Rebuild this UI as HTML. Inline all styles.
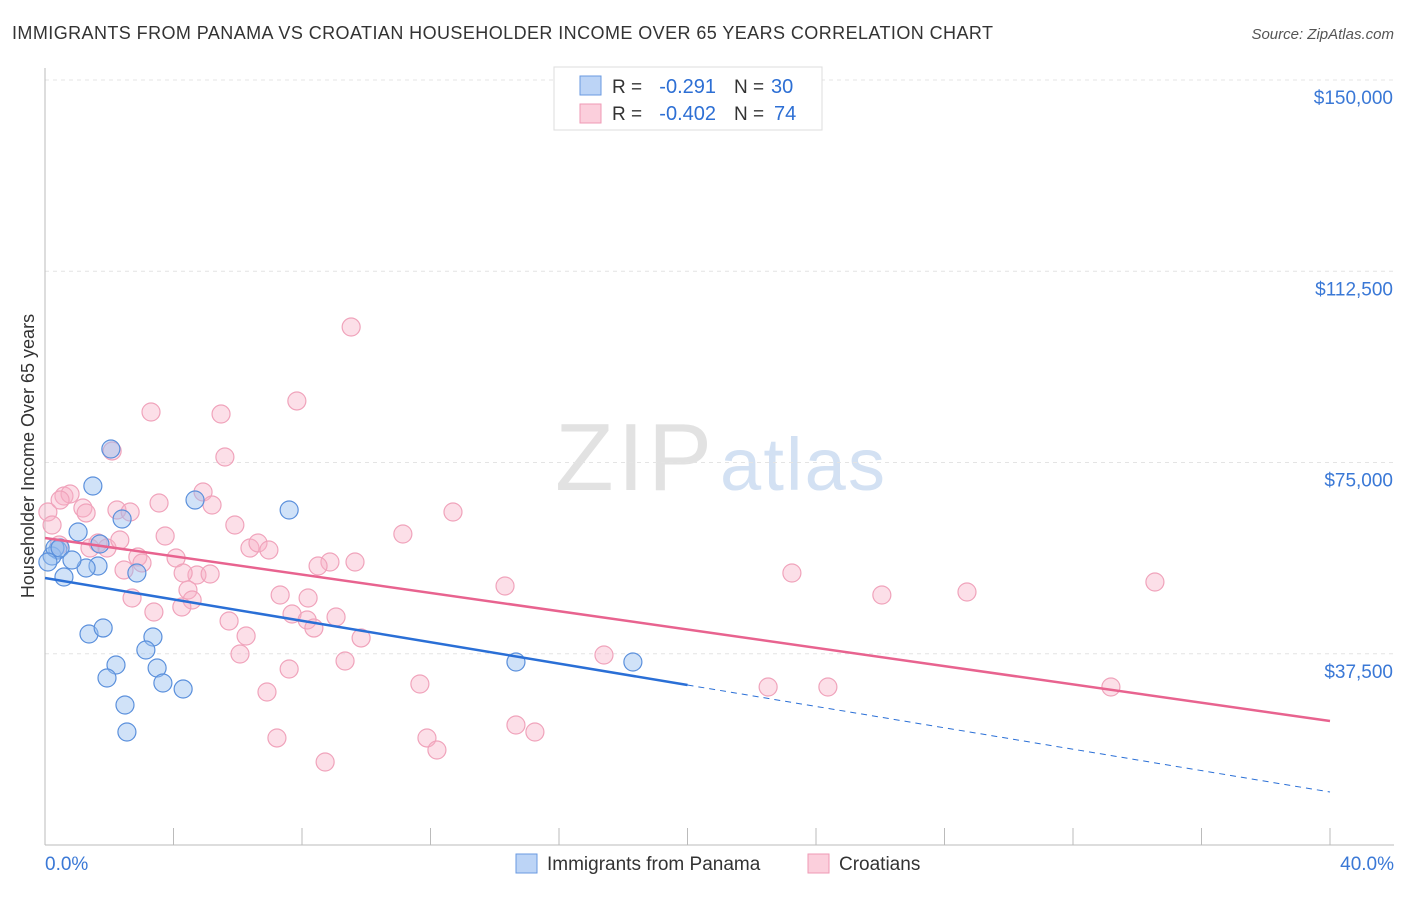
<!DOCTYPE html>
<html><head><meta charset="utf-8"><style>
body{margin:0;background:#fff;font-family:"Liberation Sans",sans-serif}
svg text{font-family:"Liberation Sans",sans-serif}
</style></head><body>
<svg id="c" width="1406" height="892">
<text x="12" y="39" font-size="18" textLength="981" fill="#333">IMMIGRANTS FROM PANAMA VS CROATIAN HOUSEHOLDER INCOME OVER 65 YEARS CORRELATION CHART</text>
<text x="1394" y="39" font-size="15" fill="#555" text-anchor="end" font-style="italic">Source: ZipAtlas.com</text>
<text x="555" y="490" font-size="96" textLength="157" fill="#e2e2e2" font-family="Liberation Serif">ZIP</text>
<text x="720" y="490" font-size="74" textLength="165" fill="#d3e1f3">atlas</text>
<text transform="translate(34,456) rotate(-90)" font-size="18" fill="#333" text-anchor="middle">Householder Income Over 65 years</text>
<g id="grid"></g><g id="pts"></g><g id="lines"></g>
<g>
<rect x="554" y="67" width="268" height="63" fill="#fff" stroke="#ddd"/>
<rect x="580" y="76" width="21" height="19" fill="#bcd4f6" stroke="#6a9ae0"/>
<rect x="580" y="104" width="21" height="19" fill="#fbcfdc" stroke="#ef9ab5"/>
<text x="612" y="93" font-size="19" fill="#333">R =</text>
<text x="716" y="93" font-size="20" fill="#2d6fd4" text-anchor="end">-0.291</text>
<text x="734" y="93" font-size="19" fill="#333">N =</text>
<text x="771" y="93" font-size="20" fill="#2d6fd4">30</text>
<text x="612" y="120" font-size="19" fill="#333">R =</text>
<text x="716" y="120" font-size="20" fill="#2d6fd4" text-anchor="end">-0.402</text>
<text x="734" y="120" font-size="19" fill="#333">N =</text>
<text x="774" y="120" font-size="20" fill="#2d6fd4">74</text>
</g>
<g>
<rect x="516" y="854" width="21" height="19" fill="#bcd4f6" stroke="#6a9ae0"/>
<text x="547" y="870" font-size="19" fill="#333">Immigrants from Panama</text>
<rect x="808" y="854" width="21" height="19" fill="#fbcfdc" stroke="#ef9ab5"/>
<text x="839" y="870" font-size="19" fill="#333">Croatians</text>
</g>
</svg>
<script>
const yTicks=[37500,75000,112500,150000];
const yTickLabels=["$37,500","$75,000","$112,500","$150,000"];
const xTickLabels=["0.0%","40.0%"];
const bluePx=[[111,449],[93,486],[122,519],[195,500],[289,510],[78,532],[100,544],[58,550],[52,556],[64,577],[98,566],[86,568],[137,573],[89,634],[103,628],[153,637],[146,650],[116,665],[157,668],[107,678],[163,683],[183,689],[125,705],[127,732],[516,662],[633,662],[55,548],[48,562],[60,548],[72,560]];
const pinkPx=[[351,327],[297,401],[151,412],[221,414],[225,457],[112,451],[64,496],[70,494],[83,508],[86,513],[117,510],[130,512],[159,503],[203,492],[212,505],[235,525],[165,536],[98,543],[107,548],[59,545],[48,512],[138,557],[176,558],[124,570],[142,563],[250,548],[258,543],[269,550],[330,562],[355,562],[318,566],[403,534],[453,512],[197,575],[210,574],[132,598],[188,590],[192,600],[154,612],[182,607],[229,621],[246,636],[292,614],[308,598],[307,620],[314,628],[336,617],[361,638],[240,654],[289,669],[345,661],[267,692],[420,684],[277,738],[325,762],[427,738],[437,750],[516,725],[535,732],[604,655],[505,586],[792,573],[882,595],[967,592],[1155,582],[768,687],[828,687],[1111,687],[183,573],[90,548],[52,525],[60,500],[120,540],[280,595]];
const blueX=bluePx.map(p=>+((p[0]-45)/32.125).toFixed(2)), blueY=bluePx.map(p=>Math.round((845-p[1])*196.08));
const pinkX=pinkPx.map(p=>+((p[0]-45)/32.125).toFixed(2)), pinkY=pinkPx.map(p=>Math.round((845-p[1])*196.08));
const blueTrend=[52350,10390], pinkTrend=[60200,24310];
const X=v=>45+v*32.125, Y=v=>845-v/196.08;
const NS="http://www.w3.org/2000/svg";
function mk(t,a,p){const e=document.createElementNS(NS,t);for(const k in a)e.setAttribute(k,a[k]);p.appendChild(e);return e;}
const grid=document.getElementById('grid');
yTicks.forEach((v,i)=>{
 const l=mk('line',{x1:45,x2:1394,y1:Y(v),y2:Y(v),stroke:'#e4e4e4','stroke-dasharray':'4,4'},grid);
 
 
 const t=mk('text',{x:1393,y:Y(v)+24,'font-size':19,fill:'#3a78d6','text-anchor':'end'},grid);t.textContent=yTickLabels[i];
 
 
});
mk('line',{x1:45,x2:1394,y1:80,y2:80,stroke:'#e4e4e4','stroke-dasharray':'4,4'},grid);
mk('line',{x1:45,x2:45,y1:68,y2:845,stroke:'#bbb'},grid);
mk('line',{x1:45,x2:1394,y1:845,y2:845,stroke:'#bbb'},grid);
for(let i=0;i<=10;i++){const tk=mk('line',{x1:X(i*4),x2:X(i*4),y1:828,y2:845,stroke:'#bbb'},grid);
 
 }
[[0,'start',45],[1,'end',1394]].forEach(([i,a,x])=>{const t=mk('text',{x:x,y:870,'font-size':19,fill:'#3a78d6','text-anchor':a},grid);t.textContent=xTickLabels[i];
 
 });
const pts=document.getElementById('pts');
pinkX.forEach((x,i)=>{const c=mk('circle',{cx:X(x),cy:Y(pinkY[i]),r:9,fill:'rgba(248,175,198,0.4)',stroke:'#f0a3bb','stroke-width':1.2},pts);
 
 });
blueX.forEach((x,i)=>{const c=mk('circle',{cx:X(x),cy:Y(blueY[i]),r:9,fill:'rgba(150,190,240,0.45)',stroke:'#5b90dc','stroke-width':1.2},pts);
 
 });
const lines=document.getElementById('lines');
const by=x=>blueTrend[0]+(blueTrend[1]-blueTrend[0])*x/40;
let l=mk('line',{x1:X(0),y1:Y(by(0)),x2:X(20),y2:Y(by(20)),stroke:'#2a6fd6','stroke-width':2.5},lines);


l=mk('line',{x1:X(20),y1:Y(by(20)),x2:X(40),y2:Y(by(40)),stroke:'#2a6fd6','stroke-width':1,'stroke-dasharray':'6,5'},lines);


l=mk('line',{x1:X(0),y1:Y(pinkTrend[0]),x2:X(40),y2:Y(pinkTrend[1]),stroke:'#e8638f','stroke-width':2.5},lines);


</script>
</body></html>
